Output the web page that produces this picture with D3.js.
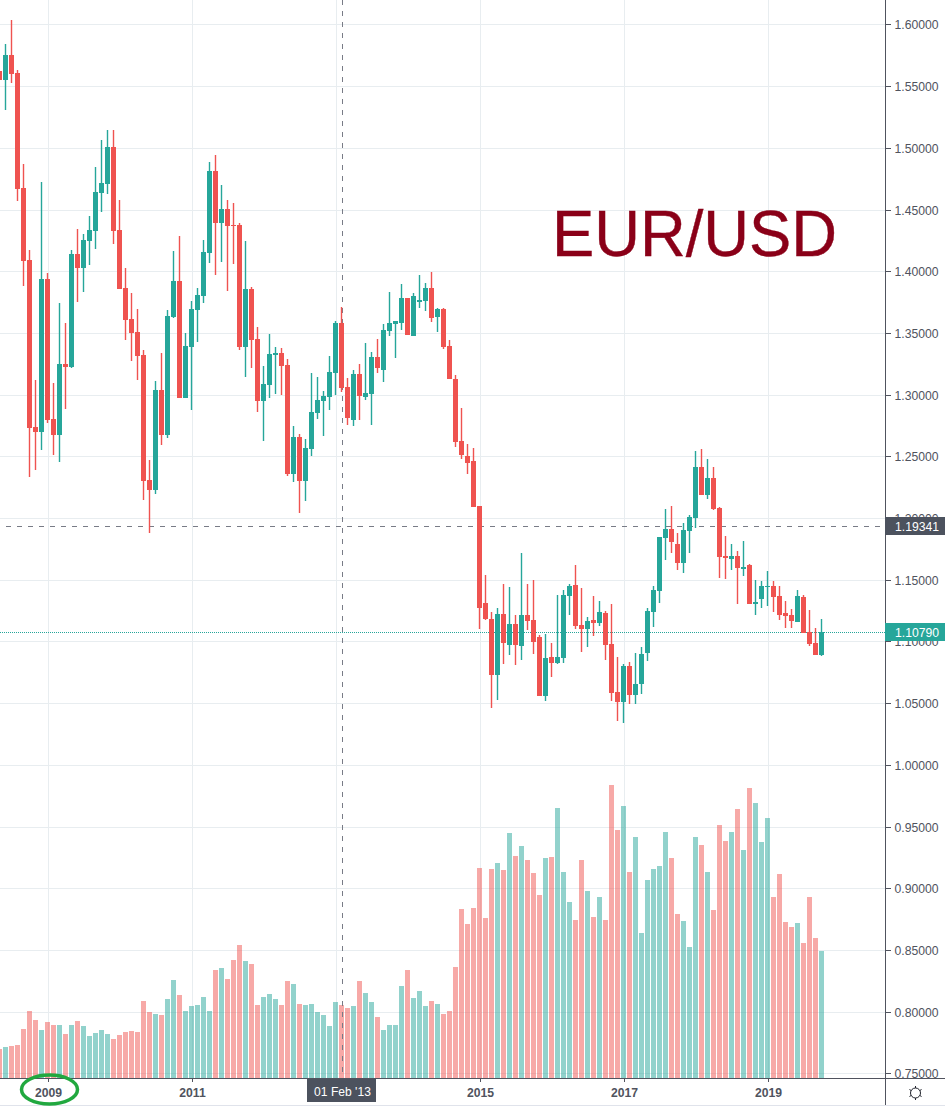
<!DOCTYPE html>
<html>
<head>
<meta charset="utf-8">
<script src="https://cdn.jsdelivr.net/npm/d3@7"></script>
<style>
html,body{margin:0;padding:0;background:#fff;overflow:hidden}
svg{display:block}
text{font-family:"Liberation Sans",Arial,sans-serif}
.axis path{display:none}
.axis line{stroke:#50535e;stroke-width:1}
.axis text{fill:#50535e;font-size:12.2px;font-family:"Liberation Sans",Arial,sans-serif}
.xaxis text{font-weight:bold}
.body,.bar{shape-rendering:crispEdges}
</style>
</head>
<body>
<svg id="chart" width="945" height="1106"></svg>
<script>
// Monthly EUR/USD candles, May 2008 to Oct 2019
const startYear = 2008, startMonth = 4;
const opens = [
1.5622,1.5549,1.5752,1.5606,1.4674,1.4091,1.2737,1.2697,1.3937,1.2802,1.2673,1.3248,1.3224,1.4139,1.4026,1.4245,1.4326,1.4634,1.4707,1.5006,
1.4334,1.3864,1.3613,1.3507,1.3321,1.2308,1.2227,1.3037,1.2673,1.3629,1.3921,1.2972,1.3386,1.3686,1.3799,1.4147,1.4812,1.4391,1.4504,1.4374,
1.4374,1.3386,1.3856,1.3450,1.2948,1.3078,1.3321,1.3337,1.3240,1.2357,1.2656,1.2300,1.2559,1.2851,1.2948,1.2981,1.3175,1.3580,1.3062,1.2794,
1.3167,1.2981,1.3005,1.3305,1.3199,1.3515,1.3572,1.3580,1.3783,1.3475,1.3750,1.3759,1.3864,1.3629,1.3694,1.3394,1.3126,1.2624,1.2502,1.2462,
1.2097,1.1311,1.1182,1.0728,1.1222,1.0971,1.1141,1.0963,1.1214,1.1173,1.1036,1.0557,1.0874,1.0825,1.0866,1.1368,1.1457,1.1133,1.1100,1.1173,
1.1149,1.1230,1.0979,1.0590,1.0509,1.0801,1.0566,1.0655,1.0906,1.1238,1.1408,1.1838,1.1911,1.1789,1.1635,1.1895,1.2000,1.2413,1.2186,1.2324,
1.2081,1.1692,1.1668,1.1692,1.1587,1.1619,1.1303,1.1344,1.1441,1.1449,1.1368,1.1230,1.1214,1.1157,1.1360,1.1076,1.0987,1.0890];
const closes = [
1.5549,1.5752,1.5598,1.4666,1.4083,1.2732,1.2697,1.3937,1.2794,1.2673,1.3248,1.3224,1.4139,1.4026,1.4253,1.4334,1.4642,1.4715,1.5006,1.4326,
1.3856,1.3605,1.3499,1.3313,1.2300,1.2227,1.3037,1.2673,1.3637,1.3921,1.2972,1.3394,1.3694,1.3807,1.4156,1.4812,1.4391,1.4504,1.4366,1.4366,
1.3386,1.3856,1.3442,1.2948,1.3086,1.3329,1.3337,1.3232,1.2357,1.2656,1.2300,1.2567,1.2859,1.2956,1.2989,1.3183,1.3580,1.3054,1.2810,1.3167,
1.2989,1.3013,1.3305,1.3216,1.3524,1.3580,1.3596,1.3783,1.3483,1.3799,1.3767,1.3864,1.3621,1.3694,1.3386,1.3126,1.2616,1.2511,1.2446,1.2089,
1.1271,1.1182,1.0728,1.1222,1.0987,1.1141,1.0971,1.1214,1.1165,1.0995,1.0557,1.0866,1.0825,1.0874,1.1376,1.1449,1.1125,1.1100,1.1165,1.1149,
1.1238,1.0971,1.0582,1.0509,1.0801,1.0566,1.0655,1.0898,1.1246,1.1417,1.1846,1.1911,1.1806,1.1635,1.1903,1.2008,1.2413,1.2186,1.2324,1.2073,
1.1684,1.1676,1.1692,1.1595,1.1603,1.1303,1.1319,1.1449,1.1449,1.1360,1.1214,1.1206,1.1165,1.1368,1.1068,1.0979,1.0890,1.1079];
const highs = [
1.5622,1.5841,1.6036,1.5630,1.4869,1.4172,1.3118,1.4723,1.3985,1.3094,1.3742,1.3580,1.4172,1.4342,1.4301,1.4447,1.4844,1.5063,1.5144,1.5144,
1.4577,1.4026,1.3823,1.3694,1.3361,1.2470,1.3110,1.3337,1.3686,1.4164,1.4285,1.3499,1.3759,1.3864,1.4253,1.4885,1.4942,1.4698,1.4577,1.4553,
1.4391,1.4245,1.3872,1.3548,1.3232,1.3491,1.3386,1.3378,1.3288,1.2745,1.2681,1.2640,1.3175,1.3143,1.3029,1.3313,1.3596,1.3710,1.3134,1.3199,
1.3248,1.3418,1.3345,1.3450,1.3572,1.3831,1.3596,1.3896,1.3783,1.3823,1.3969,1.3904,1.3993,1.3702,1.3702,1.3442,1.3159,1.2891,1.2600,1.2567,
1.2097,1.1538,1.1238,1.1271,1.1465,1.1441,1.1214,1.1716,1.1465,1.1498,1.1052,1.1060,1.0987,1.1376,1.1417,1.1465,1.1619,1.1433,1.1198,1.1368,
1.1327,1.1246,1.1303,1.0874,1.0817,1.0833,1.0906,1.0955,1.1271,1.1449,1.1846,1.2073,1.2097,1.1878,1.1960,1.2024,1.2543,1.2559,1.2478,1.2413,
1.2089,1.1854,1.1789,1.1733,1.1814,1.1627,1.1498,1.1490,1.1571,1.1490,1.1449,1.1327,1.1263,1.1417,1.1376,1.1254,1.1109,1.1182];
const lows = [
1.5549,1.5309,1.5525,1.4569,1.3880,1.2335,1.2389,1.2551,1.2772,1.2511,1.2454,1.2883,1.3216,1.3750,1.3831,1.4050,1.4180,1.4480,1.4626,1.4220,
1.3856,1.3442,1.3272,1.3118,1.2146,1.1878,1.2195,1.2592,1.2648,1.3621,1.2972,1.2972,1.2875,1.3426,1.3742,1.4066,1.3969,1.4074,1.3840,1.4058,
1.3361,1.3143,1.3216,1.2859,1.2624,1.2972,1.3005,1.2997,1.2340,1.2292,1.2040,1.2138,1.2502,1.2802,1.2664,1.2875,1.2997,1.3021,1.2754,1.2745,
1.2794,1.2956,1.2754,1.3175,1.3102,1.3475,1.3297,1.3524,1.3483,1.3475,1.3702,1.3677,1.3588,1.3507,1.3369,1.3126,1.2575,1.2478,1.2357,1.2089,
1.1100,1.1173,1.0460,1.0525,1.0817,1.0890,1.0809,1.0849,1.1092,1.0898,1.0557,1.0517,1.0711,1.0817,1.0825,1.1214,1.1100,1.0914,1.0955,1.1044,
1.1125,1.0849,1.0517,1.0355,1.0339,1.0493,1.0493,1.0574,1.0841,1.1117,1.1311,1.1660,1.1716,1.1579,1.1554,1.1716,1.1919,1.2186,1.2154,1.2065,
1.1514,1.1506,1.1579,1.1303,1.1530,1.1303,1.1214,1.1271,1.1287,1.1238,1.1173,1.1109,1.1109,1.1157,1.1068,1.0963,1.0890,1.0882];
// Volume in arbitrary units (the chart gives no volume scale)
const volumes = [
29,31,32,33,49,67,58,48,56,53,53,44,53,57,52,42,45,48,44,39,
43,46,47,46,77,66,64,63,79,98,83,67,72,73,81,67,108,110,99,118,
133,117,114,73,81,84,79,73,97,94,74,73,74,66,63,52,76,73,70,72,
97,85,76,61,48,53,53,92,108,80,87,72,77,74,64,67,111,169,154,170,
210,160,209,215,208,245,222,232,218,205,183,220,221,270,206,176,158,218,187,161,
181,158,293,248,272,206,241,145,198,209,212,246,220,164,157,131,241,233,206,168,
253,237,246,269,228,290,275,236,260,181,204,156,151,155,135,181,140,127];

const priceTicks = [0.75,0.80,0.85,0.90,0.95,1.00,1.05,1.10,1.15,1.20,1.25,1.30,1.35,1.40,1.45,1.50,1.55,1.60];
const gridMonths = [8,32,56,80,104,128];
const yearLabels = {8:"2009",32:"2011",80:"2015",104:"2017",128:"2019"};
const labelledMonths = [8,32,80,104,128];
const lastPrice = 1.10790, crossPrice = 1.19341, crossMonth = 57, crossLabel = "01 Feb '13";
const title = "EUR/USD";
const months = opens.map((_, i) => new Date(Date.UTC(startYear, startMonth + i, 1)));

const UP = "#26a69a", DOWN = "#ef5350", AXIS = "#50535e", GRID = "#e8edf0", TAG = "#4c525e", CROSS = "#787b86";
const W = 945, H = 1106, axisX = 885, baseY = 1078;
const svg = d3.select("#chart");
const x = d3.scaleLinear().domain([0, months.length - 1]).range([-0.5, 821.5]);
const y = d3.scaleLinear().domain([0.75, 1.6]).range([1073.3, 24.4]);
const yTick = y.copy().rangeRound([1073.3, 24.4]);
const v = d3.scaleLinear().domain([0, 300]).range([baseY, baseY - 300]);
const isUp = i => closes[i] >= opens[i];
const idx = d3.range(months.length);
const left = i => Math.round(x(i) - 2.5);

// grid
svg.append("g").selectAll("line").data(priceTicks).join("line")
  .attr("x1", 0).attr("x2", axisX)
  .attr("y1", d => yTick(d) + .5).attr("y2", d => yTick(d) + .5)
  .attr("stroke", GRID);
svg.append("g").selectAll("line").data(gridMonths).join("line")
  .attr("x1", d => x(d) + 1).attr("x2", d => x(d) + 1)
  .attr("y1", 0).attr("y2", baseY)
  .attr("stroke", GRID);

// volume
svg.append("g").selectAll("rect").data(idx).join("rect").attr("class", "bar")
  .attr("x", left).attr("width", 5)
  .attr("y", i => v(volumes[i])).attr("height", i => baseY - v(volumes[i]))
  .attr("fill", i => isUp(i) ? UP : DOWN).attr("fill-opacity", .5);

// crosshair and last price line
const cx = Math.round(x(crossMonth)) + .5, cy = yTick(crossPrice) + .5;
svg.append("line").attr("x1", cx).attr("x2", cx).attr("y1", 0).attr("y2", baseY)
  .attr("stroke", CROSS).attr("stroke-dasharray", "5 6");
svg.append("line").attr("x1", 6).attr("x2", axisX).attr("y1", cy).attr("y2", cy)
  .attr("stroke", CROSS).attr("stroke-dasharray", "5 6");
const ly = Math.round(y(lastPrice)) + .5;
svg.append("line").attr("x1", 0).attr("x2", axisX).attr("y1", ly).attr("y2", ly)
  .attr("stroke", UP).attr("stroke-dasharray", "1 1");

// candles
const candles = svg.append("g");
candles.selectAll(".wick").data(idx).join("rect").attr("class", "wick")
  .attr("x", i => left(i) + 1.8).attr("width", 1.4)
  .attr("y", i => Math.round(y(highs[i])))
  .attr("height", i => Math.round(y(lows[i])) - Math.round(y(highs[i])))
  .attr("fill", i => isUp(i) ? UP : DOWN);
candles.selectAll(".body").data(idx).join("rect").attr("class", "body")
  .attr("x", left).attr("width", 5)
  .attr("y", i => Math.round(y(Math.max(opens[i], closes[i]))))
  .attr("height", i => Math.max(1, Math.round(y(Math.min(opens[i], closes[i]))) - Math.round(y(Math.max(opens[i], closes[i])))))
  .attr("fill", i => isUp(i) ? UP : DOWN);

// title
svg.append("text").attr("x", 552).attr("y", 255.5).attr("font-size", 65)
  .attr("textLength", 285).attr("lengthAdjust", "spacingAndGlyphs")
  .attr("fill", "#8a0018").attr("stroke", "#8a0018").attr("stroke-width", .4).text(title);

// axes
svg.append("line").attr("x1", 0).attr("x2", W).attr("y1", baseY + .5).attr("y2", baseY + .5).attr("stroke", AXIS);
svg.append("line").attr("x1", axisX + .5).attr("x2", axisX + .5).attr("y1", 0).attr("y2", H).attr("stroke", AXIS);
svg.append("g").attr("class", "axis").attr("transform", `translate(${axisX},0)`)
  .call(d3.axisRight(yTick).tickValues(priceTicks).tickFormat(d3.format(".5f")).tickSize(6).tickPadding(3.5))
  .selectAll("text").attr("dy", ".37em");
svg.append("g").attr("class", "axis xaxis").attr("transform", `translate(0.5,${baseY})`)
  .call(d3.axisBottom(x).tickValues(labelledMonths).tickFormat(d => yearLabels[d]).tickSize(4).tickPadding(6));
svg.append("rect").attr("x", 0).attr("y", H - 1).attr("width", W).attr("height", 1).attr("fill", "#e0e3eb");

// price tags
function tag(val, fill) {
  const c = Math.round(y(val));
  svg.append("rect").attr("x", axisX).attr("y", c - 9).attr("width", W - axisX).attr("height", 18).attr("fill", fill);
  svg.append("text").attr("x", 895).attr("y", c).attr("dy", ".42em").attr("fill", "#fff").attr("font-size", 12.2)
    .text(d3.format(".5f")(val));
}
tag(crossPrice, TAG);
tag(lastPrice, UP);

// crosshair date tag
svg.append("rect").attr("x", 307).attr("y", baseY + 1).attr("width", 69).attr("height", 23).attr("fill", TAG);
svg.append("text").attr("x", 342.5).attr("y", 1095.5).attr("text-anchor", "middle").attr("fill", "#fff")
  .attr("font-size", 12.1).text(crossLabel);

// green hand-drawn circle round 2009
svg.append("ellipse").attr("cx", 49.5).attr("cy", 1089.5).attr("rx", 28).attr("ry", 14.5)
  .attr("fill", "none").attr("stroke", "#21a83f").attr("stroke-width", 3.5);

// settings icon
const icon = svg.append("g").attr("transform", "translate(915.5,1093)").attr("stroke", "#1f222b").attr("fill", "none");
icon.append("circle").attr("r", 5);
icon.selectAll("line").data(d3.range(0, 360, 60)).join("line")
  .attr("x1", d => 5 * Math.cos((d + 30) * Math.PI / 180)).attr("y1", d => 5 * Math.sin((d + 30) * Math.PI / 180))
  .attr("x2", d => 7 * Math.cos((d + 30) * Math.PI / 180)).attr("y2", d => 7 * Math.sin((d + 30) * Math.PI / 180));
</script>
</body>
</html>
